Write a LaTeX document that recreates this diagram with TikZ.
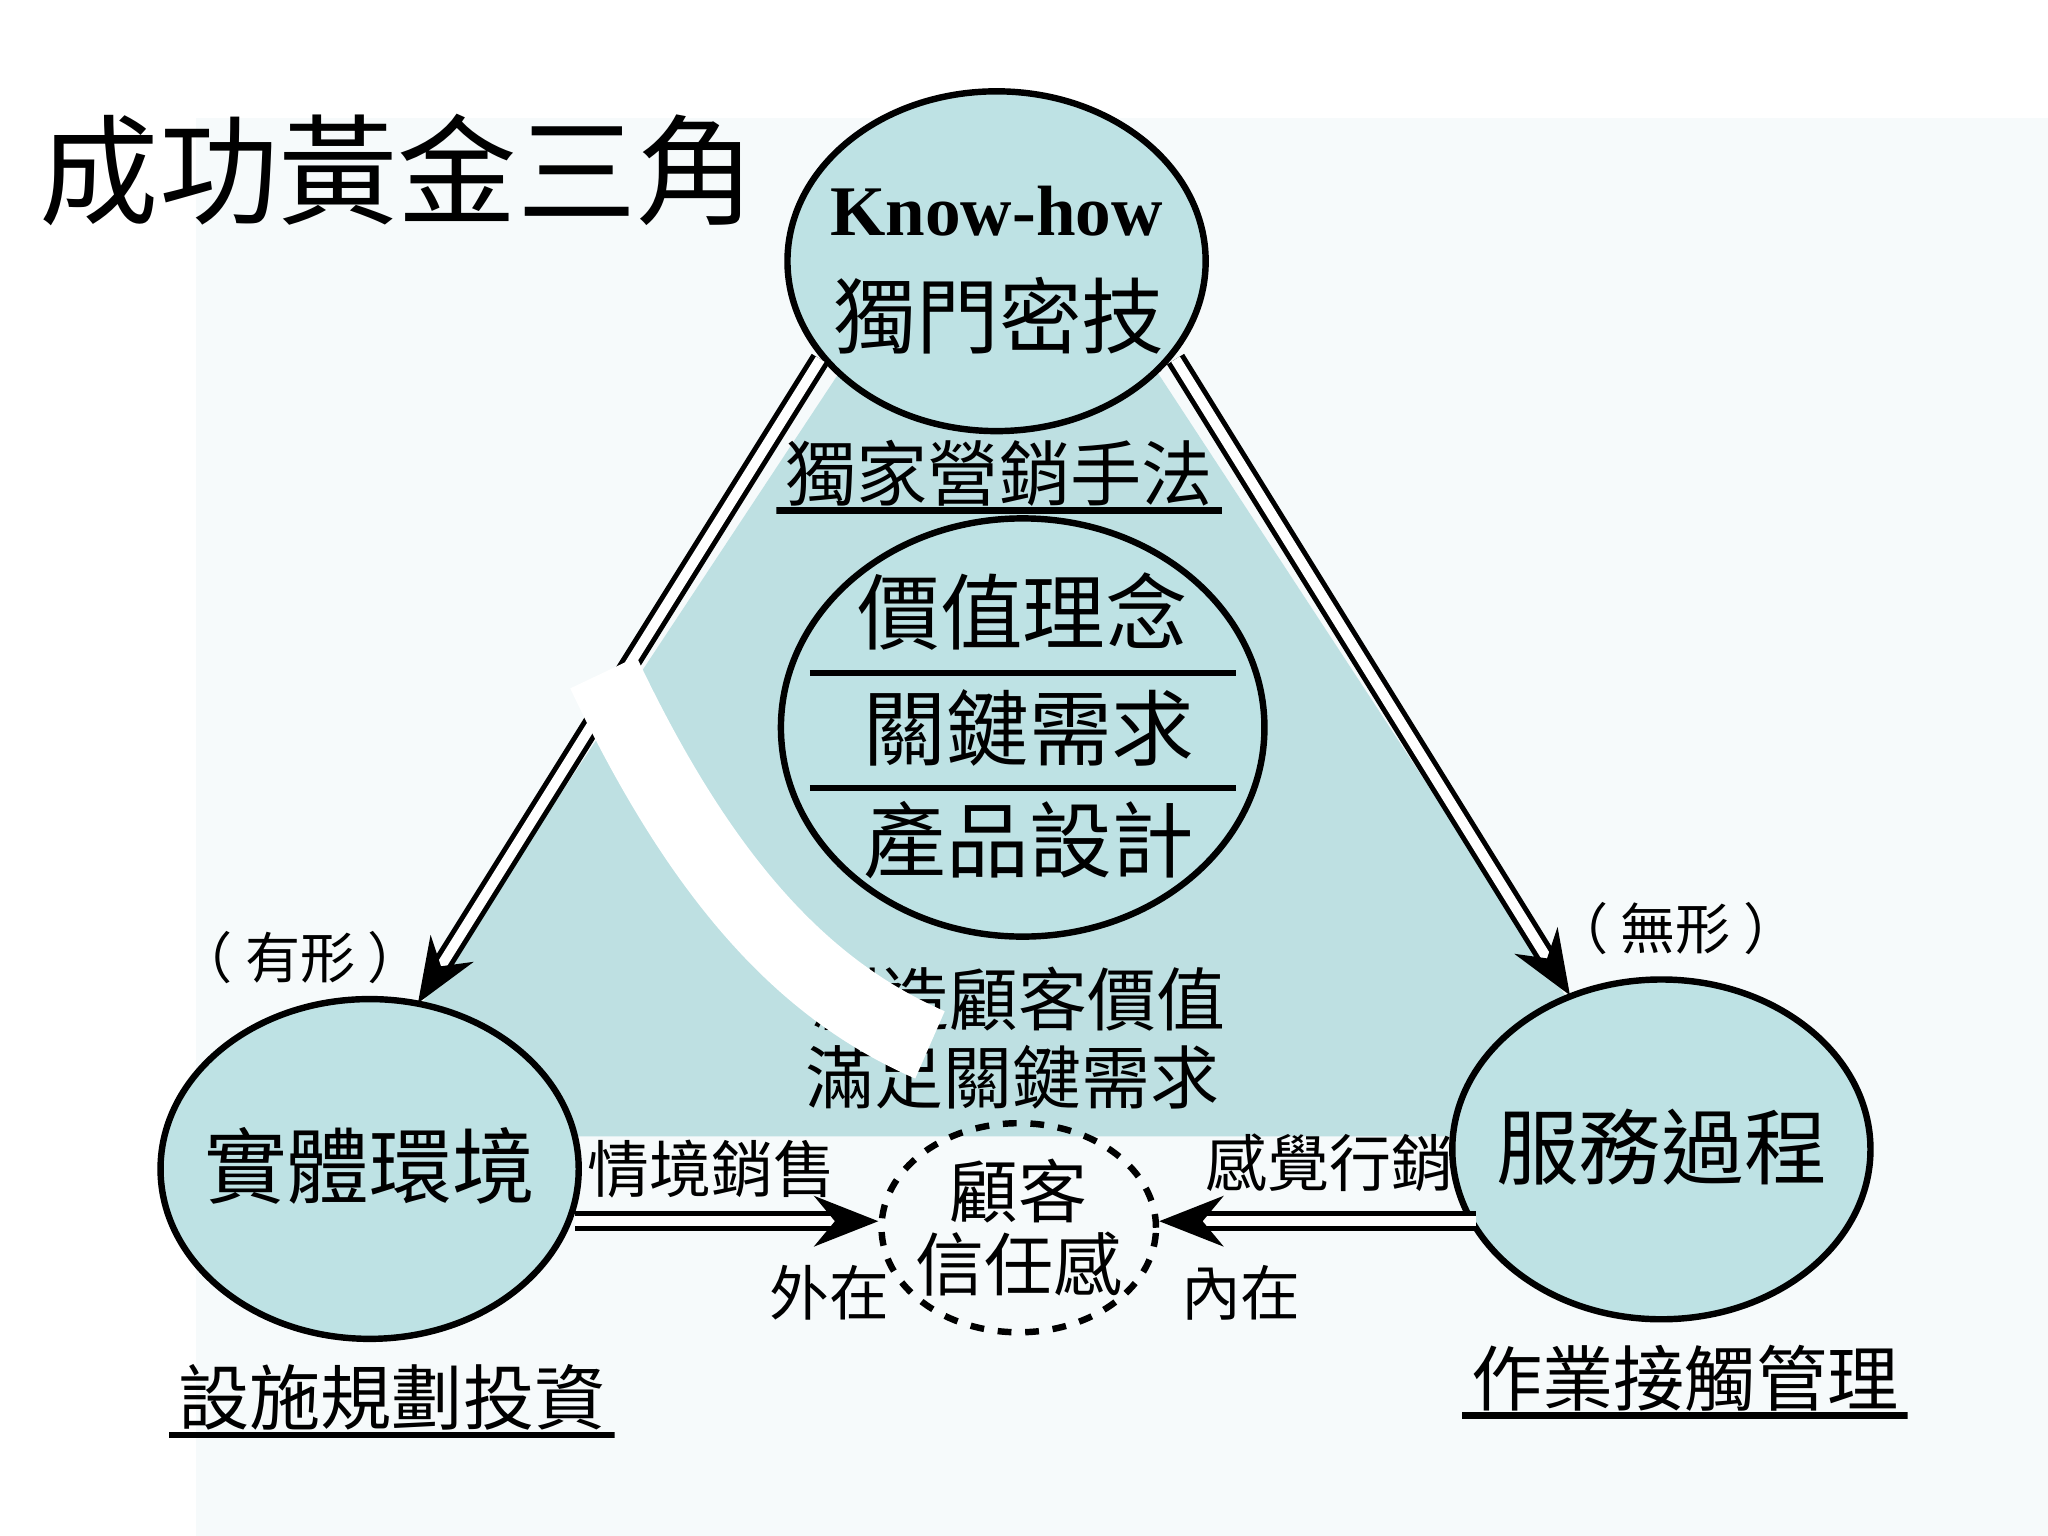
\documentclass[tikz,border=0pt]{standalone}
\usepackage{fontspec}
\setmainfont{Noto Sans CJK TC}
\newfontfamily\kfont{Liberation Serif}
\usetikzlibrary{shapes.geometric,arrows.meta}
\definecolor{tri}{RGB}{190,224,226}
\definecolor{ell}{RGB}{190,226,228}
\definecolor{bg}{RGB}{246,250,251}
\tikzset{
  oval/.style={ellipse,draw=black,line width=1.4pt,fill=ell,inner sep=0pt},
  dbl/.style={double,double distance=2.2pt,line width=1.1pt,-{Stealth[length=14pt,width=11pt]}},
  lab/.style={font=\fontsize{12}{14}\selectfont,inner sep=1pt},
  big/.style={font=\fontsize{18}{20}\selectfont},
  ul/.style={font=\fontsize{15.5}{17}\selectfont,inner sep=2pt,path picture={\draw[line width=1.4pt]([yshift=1pt]path picture bounding box.south west)--([yshift=1pt]path picture bounding box.south east);}}
}
\begin{document}
\begin{tikzpicture}[x=0.01cm,y=-0.01cm]
\useasboundingbox (0,0) rectangle (1568,1176);
\fill[white] (0,0) rectangle (1568,1176);
\fill[bg] (150,90) rectangle (1568,1176);
\fill[tri] (765,100)--(1269,870)--(256,870)--cycle;
\node[font=\fontsize{26}{30}\selectfont,anchor=west] (title) at (18,130) {成功黃金三角};
% nodes
\node[oval,minimum width=3.2cm,minimum height=2.6cm] (top) at (763,200) {};
\node[font=\kfont\bfseries\fontsize{15.5}{17}\selectfont] (kh) at (763,162) {Know-how};
\node[big] (dm) at (765,242) {獨門密技};
\node[ul] (l1) at (765,362) {獨家營銷手法};
\node[oval,minimum width=3.7cm,minimum height=3.2cm] (mid) at (783,557) {};
\draw[line width=1.3pt] ([xshift=7]mid.west |- 0,515) coordinate (a1) -- ([xshift=-7]mid.east |- 0,515) coordinate (a2);
\draw[line width=1.3pt] ([xshift=7]mid.west |- 0,603) coordinate (b1) -- ([xshift=-7]mid.east |- 0,603) coordinate (b2);
\node[big] (m1) at (783,468) {價值理念};
\node[big] (m2) at (788,557) {關鍵需求};
\node[big] (m3) at (788,643) {產品設計};
\node[oval,minimum width=3.2cm,minimum height=2.6cm] (left) at (283,895) {};
\node[big] (lt1) at (283,893) {實體環境};
\node[oval,minimum width=3.2cm,minimum height=2.6cm] (right) at (1272,880) {};
\node[big] (rt1) at (1272,878) {服務過程};
\node[ellipse,draw,dashed,line width=1.4pt,minimum width=2.1cm,minimum height=1.6cm,inner sep=0pt] (cust) at (780,940) {};
\node[align=center,font=\fontsize{15}{16}\selectfont] (ct) at (780,940) {顧客\\信任感};
% connectors
\coordinate (ls) at (628,275);
\coordinate (rs) at (900,275);
\coordinate (lt) at (320,768);
\coordinate (rt) at (1202,762);
\coordinate (lh) at (440,935);
\coordinate (rh) at (1130,935);
\draw[dbl] (ls) -- (lt);
\draw[dbl] (rs) -- (rt);
\draw[dbl] (lh) -- (cust.west |- lh);
\draw[dbl] (rh) -- (cust.east |- rh);
% texts
\node[font=\fontsize{15}{17}\selectfont] (c1) at (780,765) {創造顧客價值};
\node[font=\fontsize{15}{17}\selectfont] (c2) at (775,825) {滿足關鍵需求};
\draw[white,line width=16pt] (462,515) .. controls (540,680) and (620,760) .. (712,800);
\node[lab,font=\fontsize{13.5}{15}\selectfont] (t1) at (545,895) {情境銷售};
\node[lab,font=\fontsize{13.5}{15}\selectfont] (t2) at (1018,890) {感覺行銷};
\node[lab,font=\fontsize{13}{15}\selectfont] (t3) at (635,990) {外在};
\node[lab,font=\fontsize{13}{15}\selectfont] (t4) at (950,990) {內在};
\node[lab] (t5) at (230,733) {（ 有形 ）};
\node[lab] (t6) at (1283,711) {（ 無形 ）};
\node[ul] (u1) at (300,1070) {設施規劃投資};
\node[ul] (u2) at (1290,1055) {作業接觸管理};
\end{tikzpicture}
\end{document}
